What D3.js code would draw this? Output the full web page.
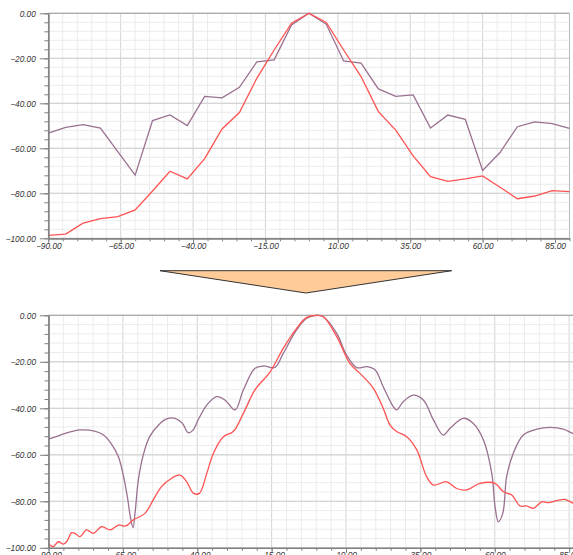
<!DOCTYPE html>
<html><head><meta charset="utf-8">
<script src="https://cdn.jsdelivr.net/npm/d3@7"></script>
<style>
html,body{margin:0;padding:0;background:#fff;overflow:hidden;}
svg{display:block;}
.tick text{font-family:"Liberation Sans",Arial,sans-serif;font-style:italic;font-size:8.3px;fill:#333;}
</style></head>
<body><svg id="c" width="573" height="555"></svg>
<script>
// ---- Top chart (coarse sampling) ----
const topAngles = [-90,-84,-78,-72,-66,-60,-54,-48,-42,-36,-30,-24,-18,-12,-6,0,6,12,18,24,30,36,42,48,54,60,66,72,78,84,90];
const topPurple = [-53.3,-50.7,-49.5,-51,-61.5,-71.9,-47.7,-45.2,-49.9,-36.9,-37.6,-32.9,-21.6,-20.7,-5.2,0,-4.9,-21.2,-22.1,-33.6,-36.9,-36.3,-51,-45.2,-47.1,-69.9,-61.9,-50.4,-48.3,-49,-51.1];
const topRed = [-98.7,-98.1,-93.3,-91.3,-90.4,-87.4,-79,-70.2,-73.6,-64.6,-51.4,-44.1,-28.9,-16.3,-4.4,0,-4.1,-16.3,-28.1,-43.7,-51.9,-63.4,-72.6,-74.7,-73.6,-72.3,-77.3,-82.4,-81.2,-78.8,-79.3];

// ---- Bottom chart (fine sampling) ----
const botPurpleAngles = [-90,-86,-83,-79.5,-74.5,-71.5,-69,-66.5,-65,-63.5,-62.5,-61.6,-60.8,-59.8,-58,-56,-53,-50.5,-47.5,-45,-43,-41.5,-39.5,-36.8,-33.5,-30.7,-27.3,-24.5,-20.6,-17.8,-13.9,-11.1,-6.6,-3.2,0,2.4,6.9,10.2,13.6,17,19.8,22.5,25.9,27,29.3,32.6,36,39.4,42.7,45,49.4,52.8,56.2,59,60.1,61.2,62.7,64,66.2,69.6,74.1,78.6,83.1,86.2,90];
const botPurple = [-53.3,-51.5,-50.3,-49.3,-49.8,-51.5,-55.1,-60.8,-68,-78,-86.6,-91.3,-83.7,-70.8,-59.4,-52.2,-47.2,-44.7,-44.3,-46.5,-50.5,-49.5,-44.5,-38.6,-35,-36.4,-40.7,-32.1,-22.8,-21.8,-22.4,-16.4,-6.3,-1.3,0,-0.6,-7.8,-17.1,-22.5,-22.1,-23.5,-30.7,-39.3,-40.7,-37.1,-34.3,-36.4,-45,-51.5,-48.6,-44.3,-46.5,-53.6,-68,-82.3,-88.8,-85.2,-69.4,-59.4,-51.5,-49,-48.2,-49,-50.8,-52.5];
const botRedAngles = [-90,-88.4,-86.7,-85,-83.9,-82.2,-81.1,-79.4,-77.2,-75,-72.1,-69.3,-66.5,-64,-61.5,-57.6,-54.8,-52,-48.6,-45.8,-43.6,-41.2,-39.3,-36.8,-34.6,-31.2,-27.9,-24.5,-20.6,-15.5,-11.1,-6.6,-3.2,0,2.4,6.9,11.3,14.7,19.2,22.5,24.8,27,30.4,33.8,37.1,39.4,43.8,47.2,50.6,55,60.1,62.9,65.7,68.5,70.7,73,75.8,78,80.8,83.6,86.4,90];
const botRed = [-98.4,-99.5,-97.4,-98.4,-97.4,-93.5,-93.8,-95.2,-92.3,-93.8,-90.9,-92.3,-90.2,-90.6,-88,-85.2,-79.4,-73.7,-70.1,-68.7,-71.5,-76.6,-76.6,-68,-59.4,-52.2,-50,-42.2,-32.1,-24.3,-14.2,-5.6,-0.9,0,-0.6,-9.2,-20.7,-25,-31.4,-40,-47.2,-50,-52.2,-57.9,-69.4,-73,-71.6,-74.5,-75.1,-72.3,-72.3,-75.9,-77.3,-82,-82,-83,-80.2,-80.6,-79.7,-79.2,-80.9,-82.5];

const xMajor = [-90,-65,-40,-15,10,35,60,85];
const yMajor = [0,-20,-40,-60,-80,-100];

const purpleColor = "#9a7090";
const redColor = "#ff5252";

const svg = d3.select("#c");

function drawChart(cfg){
  const x = d3.scaleLinear().domain([-90,90]).range([cfg.x0, cfg.x1]);
  const y = d3.scaleLinear().domain([-100,0]).range([cfg.y1, cfg.y0]);
  const g = svg.append("g");
  const xMinor = d3.range(-90, 90.01, 5);
  const yMinor = d3.range(-100, 0.01, 4);
  // grid
  g.append("g").selectAll("line").data(xMinor).join("line")
    .attr("x1", d=>x(d)).attr("x2", d=>x(d)).attr("y1", y(0)).attr("y2", y(-100))
    .attr("stroke", d=> xMajor.includes(d) ? "#d4d4d4" : "#ececec").attr("stroke-width",1);
  g.append("g").selectAll("line").data(yMinor.concat(yMajor)).join("line")
    .attr("x1", x(-90)).attr("x2", x(90)).attr("y1", d=>y(d)).attr("y2", d=>y(d))
    .attr("stroke", d=> yMajor.includes(d) ? "#d4d4d4" : "#ececec").attr("stroke-width",1);
  // border top/right
  g.append("line").attr("x1",x(-90)).attr("x2",x(90)).attr("y1",y(0)).attr("y2",y(0)).attr("stroke","#aaa").attr("stroke-width",1.3);
  g.append("line").attr("x1",x(90)).attr("x2",x(90)).attr("y1",y(0)).attr("y2",y(-100)).attr("stroke","#bbb");
  // lines
  const line = d3.line().x(d=>x(d[0])).y(d=>y(d[1])).curve(cfg.curve);
  g.append("path").datum(d3.zip(cfg.ax, cfg.purple)).attr("d", line)
    .attr("fill","none").attr("stroke", purpleColor).attr("stroke-width",1.3);
  g.append("path").datum(d3.zip(cfg.rx, cfg.red)).attr("d", line)
    .attr("fill","none").attr("stroke", redColor).attr("stroke-width",1.3);
  // minor axes
  const ymin = g.append("g").attr("transform",`translate(${x(-90)},0)`)
    .call(d3.axisLeft(y).tickValues(yMinor).tickSize(4).tickFormat("").tickSizeOuter(0));
  const xmin = g.append("g").attr("transform",`translate(0,${y(-100)})`)
    .call(d3.axisBottom(x).tickValues(xMinor).tickSize(3).tickFormat("").tickSizeOuter(0));
  // major axes
  const ya = g.append("g").attr("transform",`translate(${x(-90)},0)`)
    .call(d3.axisLeft(y).tickValues(yMajor).tickSize(8.5).tickPadding(4).tickFormat(d3.format(".2f")).tickSizeOuter(0));
  const xa = g.append("g").attr("transform",`translate(0,${y(-100)})`)
    .call(d3.axisBottom(x).tickValues(xMajor).tickSize(5).tickPadding(3).tickFormat(d3.format(".2f")).tickSizeOuter(0));
  [ymin,xmin,ya,xa].forEach(a=>{
    a.select(".domain").attr("stroke","#808080").attr("stroke-width",1.3);
    a.selectAll(".tick line").attr("stroke","#808080");
  });
  ya.selectAll("text").attr("dy","0.33em");
  xa.selectAll("text").attr("y",4.8).attr("dy","0.71em");
}

drawChart({x0:48.3, x1:569.5, y0:13.3, y1:238.3, ax:topAngles, purple:topPurple, rx:topAngles, red:topRed, curve:d3.curveLinear});
drawChart({x0:48.5, x1:584, y0:315.3, y1:547.8, ax:botPurpleAngles, purple:botPurple, rx:botRedAngles, red:botRed, curve:d3.curveCatmullRom.alpha(0.5)});

// arrow triangle between charts
const triX = d3.scaleLinear().domain([0,1]).range([160,451.7]);
const triY = d3.scaleLinear().domain([0,1]).range([270.7,293]);
const tri = [[0,0],[1,0],[0.5,1]];
svg.append("path")
  .attr("d", d3.line().x(d=>triX(d[0])).y(d=>triY(d[1])).curve(d3.curveLinearClosed)(tri))
  .attr("fill","#ffcc99").attr("stroke","#333").attr("stroke-width",1);
</script>
</body></html>
